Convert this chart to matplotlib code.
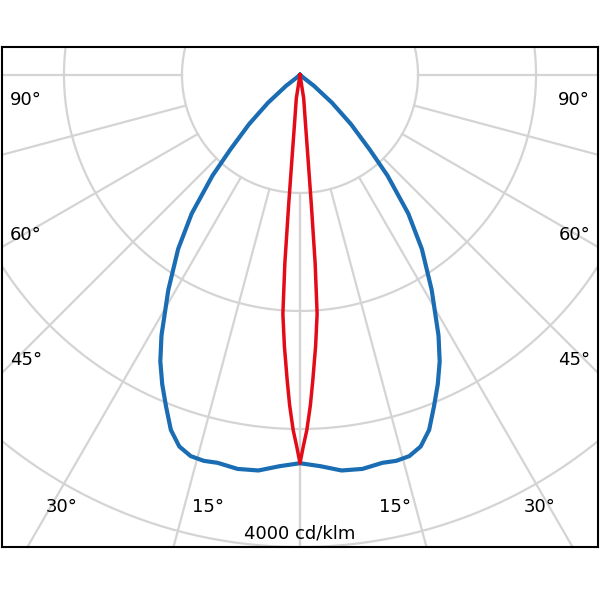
import numpy as np
import matplotlib
matplotlib.use("Agg")
import matplotlib.pyplot as plt

# Luminous intensity (cd/klm) vs angle from nadir (deg)
blue_angles = [0, 3, 6, 9, 12, 14, 16, 18, 20, 22, 24, 26, 28, 31.5, 35, 38, 41, 43, 46, 49, 52, 55]
blue_values = [3290, 3320, 3370, 3380, 3360, 3370, 3360, 3310, 3200, 3030, 2870, 2700, 2500, 2135, 1800, 1490, 1130, 870, 600, 360, 150, 0]
red_angles = [0, 0.5, 1.1, 1.8, 2.4, 3.3, 4.1, 4.6, 5.0, 5.5, 6.5, 9.0, 12.0]
red_values = [3290, 3150, 3010, 2800, 2590, 2300, 2030, 1600, 1100, 700, 400, 200, 0]
ring_values = [1000, 2000, 3000, 4000]
spoke_angles = [0, 15, 30, 45, 60, 75, 90]

fig = plt.figure(figsize=(6, 6), dpi=100)
ax = fig.add_axes([2/600, 53/600, 596/600, 500/600])
ax.set_xlim(-2525, 2525)
ax.set_ylim(-4000, 237)
ax.set_xticks([]); ax.set_yticks([])
for s in ax.spines.values():
    s.set_linewidth(1.5); s.set_color('black')

grid = '#d4d4d4'
t = np.linspace(0, 2*np.pi, 721)
for rv in ring_values:
    ax.plot(rv*np.sin(t), rv*np.cos(t), color=grid, lw=1.6, zorder=1)
for a in spoke_angles:
    for sg in (-1, 1):
        ar = np.radians(a)
        ax.plot([sg*1000*np.sin(ar), sg*6000*np.sin(ar)],
                [-1000*np.cos(ar), -6000*np.cos(ar)], color=grid, lw=1.6, zorder=1)

def curve(angles, values):
    a = np.radians(np.array(angles)); v = np.array(values)
    aa = np.concatenate([-a[::-1], a[1:]]); vv = np.concatenate([v[::-1], v[1:]])
    return vv*np.sin(aa), -vv*np.cos(aa)

x, y = curve(blue_angles, blue_values)
ax.plot(x, y, color='#1a6db3', lw=3, zorder=3, solid_joinstyle='round')
x, y = curve(red_angles, red_values)
ax.plot(x, y, color='#e30b17', lw=2.5, zorder=4)

fs = 13
for lbl, ypx in [("90°", 100), ("60°", 235), ("45°", 360)]:
    ax.text(8/600, 1-(ypx-47)/500, lbl, transform=ax.transAxes, fontsize=fs, va='center', ha='left')
    ax.text(1-8/600, 1-(ypx-47)/500, lbl, transform=ax.transAxes, fontsize=fs, va='center', ha='right')
for lbl, xpx in [("30°", 62), ("15°", 208), ("15°", 395), ("30°", 540)]:
    ax.text((xpx-2)/596, 1-(507-47)/500, lbl, transform=ax.transAxes, fontsize=fs, va='center', ha='center')
ax.text(0.5, 1-(533-47)/500, "4000 cd/klm", transform=ax.transAxes, fontsize=fs, va='center', ha='center')

fig.savefig("out.png", dpi=100)
